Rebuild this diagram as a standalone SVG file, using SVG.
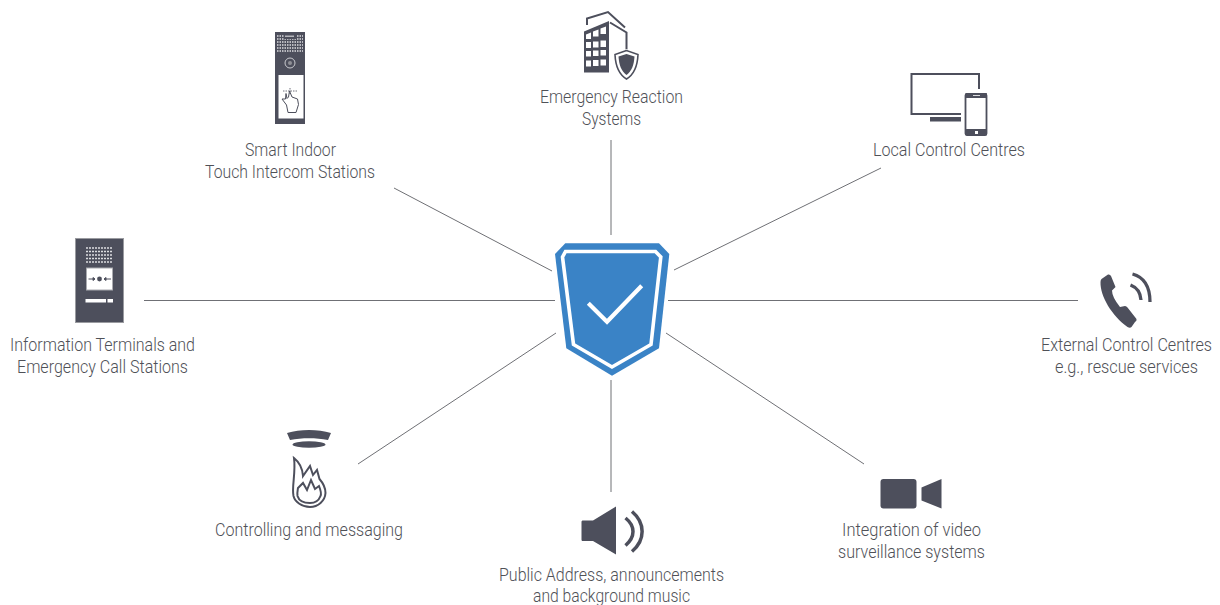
<svg xmlns="http://www.w3.org/2000/svg" width="1220" height="605" viewBox="0 0 1220 605">
<style>
.t{font-family:"Roboto","Liberation Sans",sans-serif;font-weight:300;font-size:18px;fill:#4f5157}
.l{stroke:#6f7075;stroke-width:1;fill:none}
.d{fill:#4d4f5c}
.o{fill:none;stroke:#4d4f5c;stroke-width:2}
.w{fill:#fff}
.dots{fill:none;stroke:#dcdde0;stroke-width:1.300}
</style>
<rect width="1220" height="605" fill="#fff"/>
<g id="connectors">
<line class="l" x1="394" y1="188" x2="552" y2="271"/>
<line class="l" x1="611" y1="140" x2="611" y2="235"/>
<line class="l" x1="881" y1="168" x2="674" y2="270"/>
<line class="l" x1="144" y1="300.500" x2="555" y2="300.500"/>
<line class="l" x1="668" y1="300.500" x2="1078" y2="300.500"/>
<line class="l" x1="556" y1="333" x2="358" y2="464"/>
<line class="l" x1="666" y1="333" x2="864" y2="464"/>
<line class="l" x1="611" y1="380" x2="611" y2="492"/>
</g>
<g id="center-shield">
<path d="M565.300 243.300H659L669.300 254L659 348.300L612 375.700L566.300 348.300L555 254Z" fill="#3a83c6"/>
<path d="M565.500 251.500H655.500L660.800 257L651 344.500L612 367L573.500 344.500L562.500 257Z" fill="none" stroke="#fff" stroke-width="3.600"/>
<path d="M588.300 303.300L607 321.700L641.700 285.700" fill="none" stroke="#fff" stroke-width="4.200"/>
</g>
<g id="node-indoor">
<rect class="d" x="275" y="32" width="30" height="92"/>
<path class="dots" d="M277 36H303M277 39H303M277 42H303M277 45H303M277 48H303M277 51H303" stroke-dasharray="1.500 1"/>
<rect x="284" y="34.500" width="12" height="4.500" fill="#4d4f5c"/>
<rect x="285" y="35.500" width="9" height="1.500" fill="#b5b6bb"/>
<circle cx="290" cy="63" r="5" fill="none" stroke="#c9cace" stroke-width="1"/>
<circle cx="290" cy="63" r="2" fill="#8f9096"/>
<rect class="w" x="278.500" y="75" width="25" height="43.500"/>
<path d="M282 99L286.500 105L288 112.500H296L298.500 104.500L297.500 99L292 97L289.500 91L288.500 97L287 98.500L286 93.500L285.500 99Z" fill="none" stroke="#4d4f5c" stroke-width="1"/>
<path d="M283 91H297M290 88v6" fill="none" stroke="#4d4f5c" stroke-width=".8" stroke-dasharray="1.500 1"/>
<text class="t" x="245" y="156" textLength="91" lengthAdjust="spacingAndGlyphs">Smart Indoor</text>
<text class="t" x="205" y="178" textLength="170" lengthAdjust="spacingAndGlyphs">Touch Intercom Stations</text>
</g>
<g id="node-emergency">
<path class="d" d="M584 31.500L609 21V72.500H584Z"/>
<path d="M586 34.500L591 32.500V39H586ZM593 31.500L598.500 29.500V36.500H593ZM600.500 28.500L606 26.500V34H600.500ZM586 42H591V48H586ZM593 41.500H598.500V47.500H593ZM600.500 40.500H606V47H600.500ZM586 51H591V56.500H586ZM593 50.500H598.500V56H593ZM600.500 50H606V55.500H600.500ZM586 60.500H591V66.500H586ZM593 60H598.500V66H593ZM600.500 59.500H606V65.500H600.500Z" fill="#fff"/>
<path class="o" d="M587 25V18.500L608 12L625 27.500M610 22.500L626.500 32.500V50" stroke-width="1.800"/>
<path d="M626.500 49L613.500 54C614 67 618 75.500 626.500 81C635 75.500 639 67 639.500 54Z" fill="#fff"/>
<path d="M626.500 50.500L615 54.500C615.500 66 619 74.500 626.500 79C634 74.500 637.500 66 638 54.500Z" fill="none" stroke="#4d4f5c" stroke-width="1.600"/>
<path class="d" d="M626.500 54L618.500 56.500C619 65 621.500 71.500 626.500 75C631.500 71.500 634 65 634.500 56.500Z"/>
<text class="t" x="540" y="103" textLength="143" lengthAdjust="spacingAndGlyphs">Emergency Reaction</text>
<text class="t" x="582" y="125" textLength="59" lengthAdjust="spacingAndGlyphs">Systems</text>
</g>
<g id="node-local">
<path class="o" d="M979 89V74H911.500V114H961"/>
<rect class="d" x="930" y="117" width="31" height="4.500"/>
<rect x="965.500" y="94" width="21" height="41" rx="1.500" fill="none" stroke="#4d4f5c" stroke-width="1.800"/>
<rect class="d" x="965.500" y="93" width="21.500" height="5" rx="1"/>
<rect class="d" x="965.500" y="129" width="21.500" height="6.500" rx="1"/>
<rect x="973" y="95" width="7" height=".8" fill="#fff"/>
<rect x="975" y="131" width="3" height="3" fill="#fff"/>
<text class="t" x="873" y="156" textLength="152" lengthAdjust="spacingAndGlyphs">Local Control Centres</text>
</g>
<g id="node-info">
<rect class="d" x="75.500" y="238.500" width="48" height="84" stroke="#9a9ba0" stroke-width="1"/>
<path class="dots" d="M86 248H113M86 251.500H113M86 255H113M86 258.500H113M86 262H113" stroke-dasharray="2 1" stroke-width="1.800"/>
<rect x="86.500" y="268" width="26" height="22" fill="#fff" stroke="#aaabb0" stroke-width="1"/>
<circle class="d" cx="99.500" cy="279" r="2.400"/>
<path d="M88.500 279H95M95 279l-2-1.500v3ZM111 279H104M104 279l2-1.500v3Z" fill="#4d4f5c" stroke="#4d4f5c" stroke-width="1"/>
<rect class="w" x="85.500" y="299" width="20.500" height="3.500"/>
<rect class="w" x="107.500" y="299" width="5.500" height="3.500"/>
<text class="t" x="10" y="351" textLength="185" lengthAdjust="spacingAndGlyphs">Information Terminals and</text>
<text class="t" x="17" y="373" textLength="171" lengthAdjust="spacingAndGlyphs">Emergency Call Stations</text>
</g>
<g id="node-external">
<path class="d" d="M1101.500 279L1108 274.500Q1110 274 1111 276L1115.500 287L1112 290.500Q1112 297 1120 307L1125 306Q1126.500 306 1127.500 307.500L1136.500 319Q1137 321 1135 322L1131.500 327Q1130 328.500 1127.500 327C1112 316 1100 296 1100.500 282Q1100.500 280 1101.500 279Z"/>
<path d="M1130.500 285C1137 287.500 1140.500 293 1141 300" fill="none" stroke="#4d4f5c" stroke-width="3.300"/>
<path d="M1132.500 274C1143.500 277 1150 286 1150 302" fill="none" stroke="#4d4f5c" stroke-width="3.300"/>
<text class="t" transform="translate(1041 351) scale(.877 1)" textLength="195" lengthAdjust="spacingAndGlyphs">External Control Centres</text>
<text class="t" x="1055" y="373" textLength="143" lengthAdjust="spacingAndGlyphs">e.g., rescue services</text>
</g>
<g id="node-fire">
<path class="d" d="M287 433C300 429 318 429 331 433L328 440C316 437.500 302 437.500 290 440Z"/>
<ellipse class="d" cx="309" cy="444.500" rx="16.500" ry="3.200"/>
<path class="o" d="M294 458C299 462 302.500 468 303 476L310 466L313 475L317 470L319.500 479C323 483 325.500 488 325.500 493C325 501 318 507 310 507C302 507 295 502 293.500 496C291.500 487 296 473 294 458Z"/>
<path class="o" d="M298 488L303 483L307 490L311 480L315 489L319 486C321 491 321.500 494 320.500 496C319 500 315 503 310 503C304 503 299 501 297.500 496C297 493 297.500 491 298 488Z" stroke-width="1.700"/>
<text class="t" x="215" y="536" textLength="188" lengthAdjust="spacingAndGlyphs">Controlling and messaging</text>
</g>
<g id="node-pa">
<path class="d" d="M583 520.500H593L616 506.500V554.500L593 541H583C582 541 581.500 540.500 581.500 539.500V522C581.500 521 582 520.500 583 520.500Z"/>
<path d="M625.500 518C635.500 526 635.500 537 625.500 545.500" fill="none" stroke="#4d4f5c" stroke-width="3.500"/>
<path d="M632 511.500C645.500 523 645.500 540 632 551.500" fill="none" stroke="#4d4f5c" stroke-width="3.500"/>
<text class="t" x="499" y="581" textLength="225" lengthAdjust="spacingAndGlyphs">Public Address, announcements</text>
<text class="t" x="533" y="602" textLength="157" lengthAdjust="spacingAndGlyphs">and background music</text>
</g>
<g id="node-video">
<rect class="d" x="880.500" y="479" width="36" height="29.500" rx="3"/>
<path class="d" d="M921.500 487.500L941.500 479V508.500L921.500 500.500Z"/>
<text class="t" x="842" y="536" textLength="139" lengthAdjust="spacingAndGlyphs">Integration of video</text>
<text class="t" x="838" y="558" textLength="147" lengthAdjust="spacingAndGlyphs">surveillance systems</text>
</g>
</svg>
